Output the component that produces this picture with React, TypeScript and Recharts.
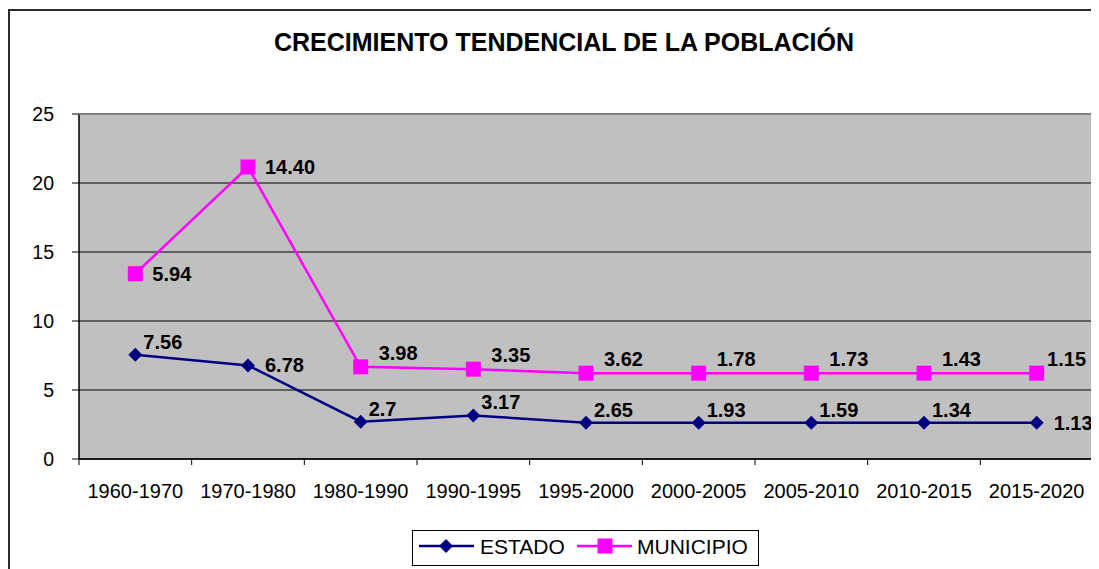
import React from 'react';
import { LineChart, Line, XAxis, YAxis, CartesianGrid, LabelList } from 'recharts';

const periodos = ['1960-1970', '1970-1980', '1980-1990', '1990-1995', '1995-2000', '2000-2005', '2005-2010', '2010-2015', '2015-2020'];
const estado = [7.56, 6.78, 2.7, 3.16, 2.63, 2.63, 2.63, 2.63, 2.63];
const municipio = [13.43, 21.16, 6.68, 6.51, 6.22, 6.22, 6.22, 6.22, 6.22];
const estadoEtiquetas = ['7.56', '6.78', '2.7', '3.17', '2.65', '1.93', '1.59', '1.34', '1.13'];
const municipioEtiquetas = ['5.94', '14.40', '3.98', '3.35', '3.62', '1.78', '1.73', '1.43', '1.15'];
const yTicks = [0, 5, 10, 15, 20, 25];

const data = periodos.map((p, i) => ({
    periodo: p,
    estado: estado[i],
    municipio: municipio[i],
    estadoEtiqueta: estadoEtiquetas[i],
    municipioEtiqueta: municipioEtiquetas[i]
}));

const FONT = '"Liberation Sans", Arial, Helvetica, sans-serif';
const W = 1091;
const H = 561;
const MARGIN = { top: 106, right: 6, bottom: 60, left: 0 };
const Y_AXIS_W = 71;
const BAND = (W - MARGIN.left - MARGIN.right - Y_AXIS_W) / periodos.length;
const PLOT = { left: 71, right: 1085, top: 106, bottom: 451 };

const XTick = (props: any) => {
    const { x, y, payload, index } = props;
    const half = BAND / 2;
    return (
        <g>
            <line x1={x - half} x2={x - half} y1={y} y2={y + 6} stroke="#000" />
            {index === periodos.length - 1 && <line x1={x + half} x2={x + half} y1={y} y2={y + 6} stroke="#000" />}
            <text x={x} y={y + 25} dy="0.71em" textAnchor="middle" fontSize={20} fill="#000" fontFamily={FONT}>
                {payload.value}
            </text>
        </g>
    );
};

const Diamond = (props: any) => {
    const { cx, cy } = props;
    if (cx == null || cy == null) return <g />;
    return <polygon points={`${cx},${cy - 7} ${cx + 7},${cy} ${cx},${cy + 7} ${cx - 7},${cy}`} fill="#000080" />;
};

const Square = (props: any) => {
    const { cx, cy } = props;
    if (cx == null || cy == null) return <g />;
    return <rect x={cx - 7.5} y={cy - 7.5} width={15} height={15} fill="#FF00FF" />;
};

// rough width of a bold 20px number label
const labelWidth = (s: string) => s.split('').reduce((w, c) => w + (c === '.' ? 5.6 : 11.1), 0);

// labels sit above-right of the marker, except a few that Excel put straight to the right
const makeLabel = (rightIdx: number[], dx: number, dy: number, fitInside: boolean) => (props: any) => {
    const { x, y, value, index } = props;
    const right = rightIdx.includes(index);
    let tx = x + (right ? 17 : dx);
    if (fitInside) tx = Math.min(tx, PLOT.right - 7 - labelWidth(String(value)));
    return (
        <text
            x={tx}
            y={y + (right ? 0 : dy)}
            dy="0.35em"
            textAnchor="start"
            fontSize={20}
            fontWeight="bold"
            fill="#000"
            fontFamily={FONT}
        >
            {value}
        </text>
    );
};

const App: React.FC = () => {
    return (
        <div style={{ position: 'relative', width: W, height: H, overflow: 'hidden', fontFamily: FONT }}>
            <div style={{ position: 'absolute', left: 0, top: 1, width: 2000, height: 2000, border: '2px solid #2b2b2b' }} />
            <div style={{ position: 'absolute', left: 0, top: 0 }}>
                <LineChart width={W} height={H} data={data} margin={MARGIN}>
                    <CartesianGrid vertical={false} stroke="#000" strokeWidth={1} fill="#C0C0C0" fillOpacity={1} />
                    <XAxis
                        dataKey="periodo"
                        height={50}
                        padding={{ left: BAND / 2, right: BAND / 2 }}
                        tickSize={0}
                        tickMargin={0}
                        tickLine={false}
                        axisLine={{ stroke: '#000', strokeWidth: 1.5 }}
                        tick={<XTick />}
                        interval={0}
                    />
                    <YAxis
                        width={Y_AXIS_W}
                        domain={[0, 25]}
                        ticks={yTicks}
                        tickSize={7}
                        tickMargin={18}
                        axisLine={{ stroke: '#000', strokeWidth: 1.5 }}
                        tickLine={{ stroke: '#000' }}
                        tick={{ fill: '#000', fontSize: 19.5, fontFamily: FONT }}
                    />
                    <Line type="linear" dataKey="estado" stroke="#000080" strokeWidth={2.5} dot={(p: any) => <Diamond key={`e${p.index}`} {...p} />} isAnimationActive={false}>
                        <LabelList dataKey="estadoEtiqueta" content={makeLabel([1, 8], 8, -13, false)} />
                    </Line>
                    <Line type="linear" dataKey="municipio" stroke="#FF00FF" strokeWidth={2.5} dot={(p: any) => <Square key={`m${p.index}`} {...p} />} isAnimationActive={false}>
                        <LabelList dataKey="municipioEtiqueta" content={makeLabel([0, 1], 18, -14, true)} />
                    </Line>
                </LineChart>
            </div>
            <svg width={W} height={H} style={{ position: 'absolute', left: 0, top: 0, pointerEvents: 'none' }}>
                <line x1={PLOT.left} x2={PLOT.right + 1} y1={PLOT.top} y2={PLOT.top} stroke="#808080" strokeWidth={2} />
                <line x1={PLOT.right} x2={PLOT.right} y1={PLOT.top} y2={PLOT.bottom} stroke="#808080" strokeWidth={2} />
                <text x={556} y={43} textAnchor="middle" fontSize={25} fontWeight="bold" fill="#000" fontFamily={FONT}>
                    CRECIMIENTO TENDENCIAL DE LA POBLACIÓN
                </text>
                <rect x={404.5} y={522.5} width={346} height={35} fill="#fff" stroke="#000" strokeWidth={1} />
                <line x1={411} x2={466} y1={538} y2={538} stroke="#000080" strokeWidth={2.5} />
                <polygon points="438,531 445,538 438,545 431,538" fill="#000080" />
                <text x={472} y={546} fontSize={21} fill="#000" fontFamily={FONT}>ESTADO</text>
                <line x1={569} x2={624} y1={538} y2={538} stroke="#FF00FF" strokeWidth={2.5} />
                <rect x={589.5} y={530.5} width={15} height={15} fill="#FF00FF" />
                <text x={629} y={546} fontSize={21} fill="#000" fontFamily={FONT}>MUNICIPIO</text>
            </svg>
        </div>
    );
};

export default App;
